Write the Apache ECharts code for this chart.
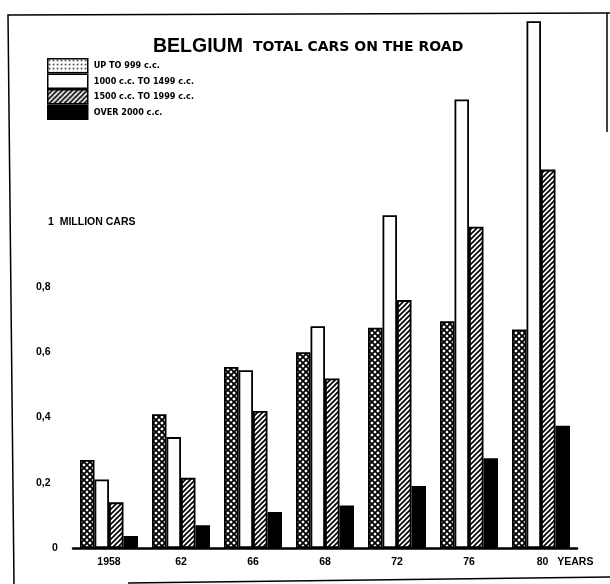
<!DOCTYPE html>
<html>
<head>
<meta charset="utf-8">
<script src="https://cdn.jsdelivr.net/npm/echarts@6/dist/echarts.min.js"></script>
<style>
  html, body { margin: 0; padding: 0; background: #fff; }
  #chart { width: 610px; height: 584px; }
</style>
</head>
<body>
<div id="chart"></div>
<script>
// Belgium: total cars on the road by engine size (millions of cars)
const years = ['1958', '62', '66', '68', '72', '76', '80'];
const seriesNames = ['UP TO 999 c.c.', '1000 c.c. TO 1499 c.c.', '1500 c.c. TO 1999 c.c.', 'OVER 2000 c.c.'];
const upTo999 = [0.27, 0.41, 0.555, 0.60, 0.675, 0.695, 0.67];
const cc1000to1499 = [0.21, 0.34, 0.545, 0.68, 1.02, 1.375, 1.615];
const cc1500to1999 = [0.14, 0.215, 0.42, 0.52, 0.76, 0.985, 1.16];
const over2000 = [0.037, 0.07, 0.11, 0.13, 0.19, 0.275, 0.375];
const yTickLabels = ['0', '0,2', '0,4', '0,6', '0,8', '1  MILLION CARS'];

const BOLD_FONT = "'Liberation Sans', 'DejaVu Sans', sans-serif";
const WIDE_FONT = "'DejaVu Sans', 'Liberation Sans', sans-serif";
const NARROW_FONT = "'Liberation Sans Narrow', 'DejaVu Sans Condensed', 'Liberation Sans', sans-serif";

// Fill patterns drawn on small tiles
function tile(size, draw) {
  const c = document.createElement('canvas');
  c.width = size; c.height = size;
  const ctx = c.getContext('2d');
  ctx.fillStyle = '#fff';
  ctx.fillRect(0, 0, size, size);
  ctx.strokeStyle = '#000';
  ctx.fillStyle = '#000';
  draw(ctx, size);
  return { image: c, repeat: 'repeat' };
}
const crossHatch = tile(6, (ctx, s) => {
  ctx.lineWidth = 1.8;
  for (let k = -1; k <= 1; k++) {
    ctx.beginPath();
    ctx.moveTo(k * s - 1, -1); ctx.lineTo(k * s + s + 1, s + 1);
    ctx.moveTo(k * s - 1, s + 1); ctx.lineTo(k * s + s + 1, -1);
    ctx.stroke();
  }
});
const diagonal = tile(5, (ctx, s) => {
  ctx.lineWidth = 1.7;
  for (let k = -1; k <= 1; k++) {
    ctx.beginPath();
    ctx.moveTo(k * s - 1, s + 1); ctx.lineTo(k * s + s + 1, -1);
    ctx.stroke();
  }
});
const dots = tile(4, (ctx) => {
  ctx.fillRect(1, 1, 1.4, 1.4);
});

const fills = [crossHatch, '#fff', diagonal, '#000'];
const values = [upTo999, cc1000to1499, cc1500to1999, over2000];

const chart = echarts.init(document.getElementById('chart'), null, { renderer: 'canvas' });

const option = {
  backgroundColor: '#fff',
  animation: false,
  title: {
    text: '{big|BELGIUM}  {small|TOTAL CARS ON THE ROAD}',
    left: 148,
    top: 30,
    textStyle: {
      rich: {
        big: { fontFamily: BOLD_FONT, fontWeight: 'bold', fontSize: 19.5, color: '#000', lineHeight: 24 },
        small: { fontFamily: WIDE_FONT, fontWeight: 'bold', fontSize: 14, color: '#000', lineHeight: 24 }
      }
    }
  },
  legend: {
    orient: 'vertical',
    left: 47,
    top: 58,
    padding: 0,
    itemGap: 0,
    itemWidth: 40,
    itemHeight: 14,
    icon: 'rect',
    selectedMode: false,
    textStyle: { fontFamily: NARROW_FONT, fontWeight: 'bold', fontSize: 9, color: '#000', padding: [0, 0, 0, 1] },
    data: [
      { name: seriesNames[0], itemStyle: { color: dots, borderColor: '#000', borderWidth: 1.5 } },
      { name: seriesNames[1], itemStyle: { color: '#fff', borderColor: '#000', borderWidth: 1.5 } },
      { name: seriesNames[2], itemStyle: { color: diagonal, borderColor: '#000', borderWidth: 1.5 } },
      { name: seriesNames[3], itemStyle: { color: '#000', borderColor: '#000', borderWidth: 1.5 } }
    ]
  },
  grid: { left: 73, right: 33, top: 0, bottom: 36, containLabel: false },
  xAxis: {
    type: 'category',
    data: years,
    axisLine: { show: true, lineStyle: { color: '#000', width: 2.5 } },
    axisTick: { show: false },
    splitLine: { show: false },
    axisLabel: {
      interval: 0,
      hideOverlap: false,
      margin: 9,
      fontFamily: BOLD_FONT,
      fontWeight: 'bold',
      fontSize: 10.5,
      color: '#000',
      formatter: (v, i) => i === years.length - 1 ? '{pad|}{yr|' + v + '}{unit|YEARS}' : v,
      rich: {
        pad: { width: 52 },
        yr: { fontFamily: BOLD_FONT, fontWeight: 'bold', fontSize: 10.5, color: '#000' },
        unit: { width: 44, padding: [0, 0, 0, 5], fontFamily: BOLD_FONT, fontWeight: 'bold', fontSize: 10.5, color: '#000' }
      }
    }
  },
  yAxis: {
    type: 'value',
    min: 0,
    max: 1.68,
    interval: 0.2,
    axisLine: { show: false },
    axisTick: { show: false },
    splitLine: { show: false },
    axisLabel: {
      align: 'left',
      margin: 37,
      fontFamily: BOLD_FONT,
      fontWeight: 'bold',
      fontSize: 10.5,
      color: '#000',
      formatter: (v) => {
        const i = Math.round(v / 0.2);
        if (Math.abs(v - i * 0.2) > 1e-6 || i >= yTickLabels.length) return '';
        if (i === 0) return '{zero|' + yTickLabels[i] + '}';
        if (i === yTickLabels.length - 1) return '{unit|' + yTickLabels[i] + '}';
        return yTickLabels[i];
      },
      rich: {
        zero: { padding: [0, 0, 0, 16], fontFamily: BOLD_FONT, fontWeight: 'bold', fontSize: 10.5, color: '#000' },
        unit: { padding: [0, 0, 0, 12], fontFamily: BOLD_FONT, fontWeight: 'bold', fontSize: 10.5, color: '#000' }
      }
    }
  },
  series: seriesNames.map((name, s) => ({
    name: name,
    type: 'bar',
    data: values[s],
    barWidth: 14.5,
    barGap: '0%',
    itemStyle: { color: fills[s], borderColor: '#000', borderWidth: 1.8 },
    emphasis: { disabled: true }
  })),
  graphic: [
    {
      type: 'polyline',
      silent: true,
      shape: { points: [[14, 584], [8, 15], [610, 13]] },
      style: { stroke: '#000', lineWidth: 1.5, fill: null }
    },
    {
      type: 'line',
      silent: true,
      shape: { x1: 607, y1: 13, x2: 607, y2: 132 },
      style: { stroke: '#000', lineWidth: 1.5 }
    },
    {
      type: 'line',
      silent: true,
      shape: { x1: 128, y1: 583, x2: 610, y2: 577 },
      style: { stroke: '#000', lineWidth: 1.5 }
    }
  ]
};

chart.setOption(option);
</script>
</body>
</html>
